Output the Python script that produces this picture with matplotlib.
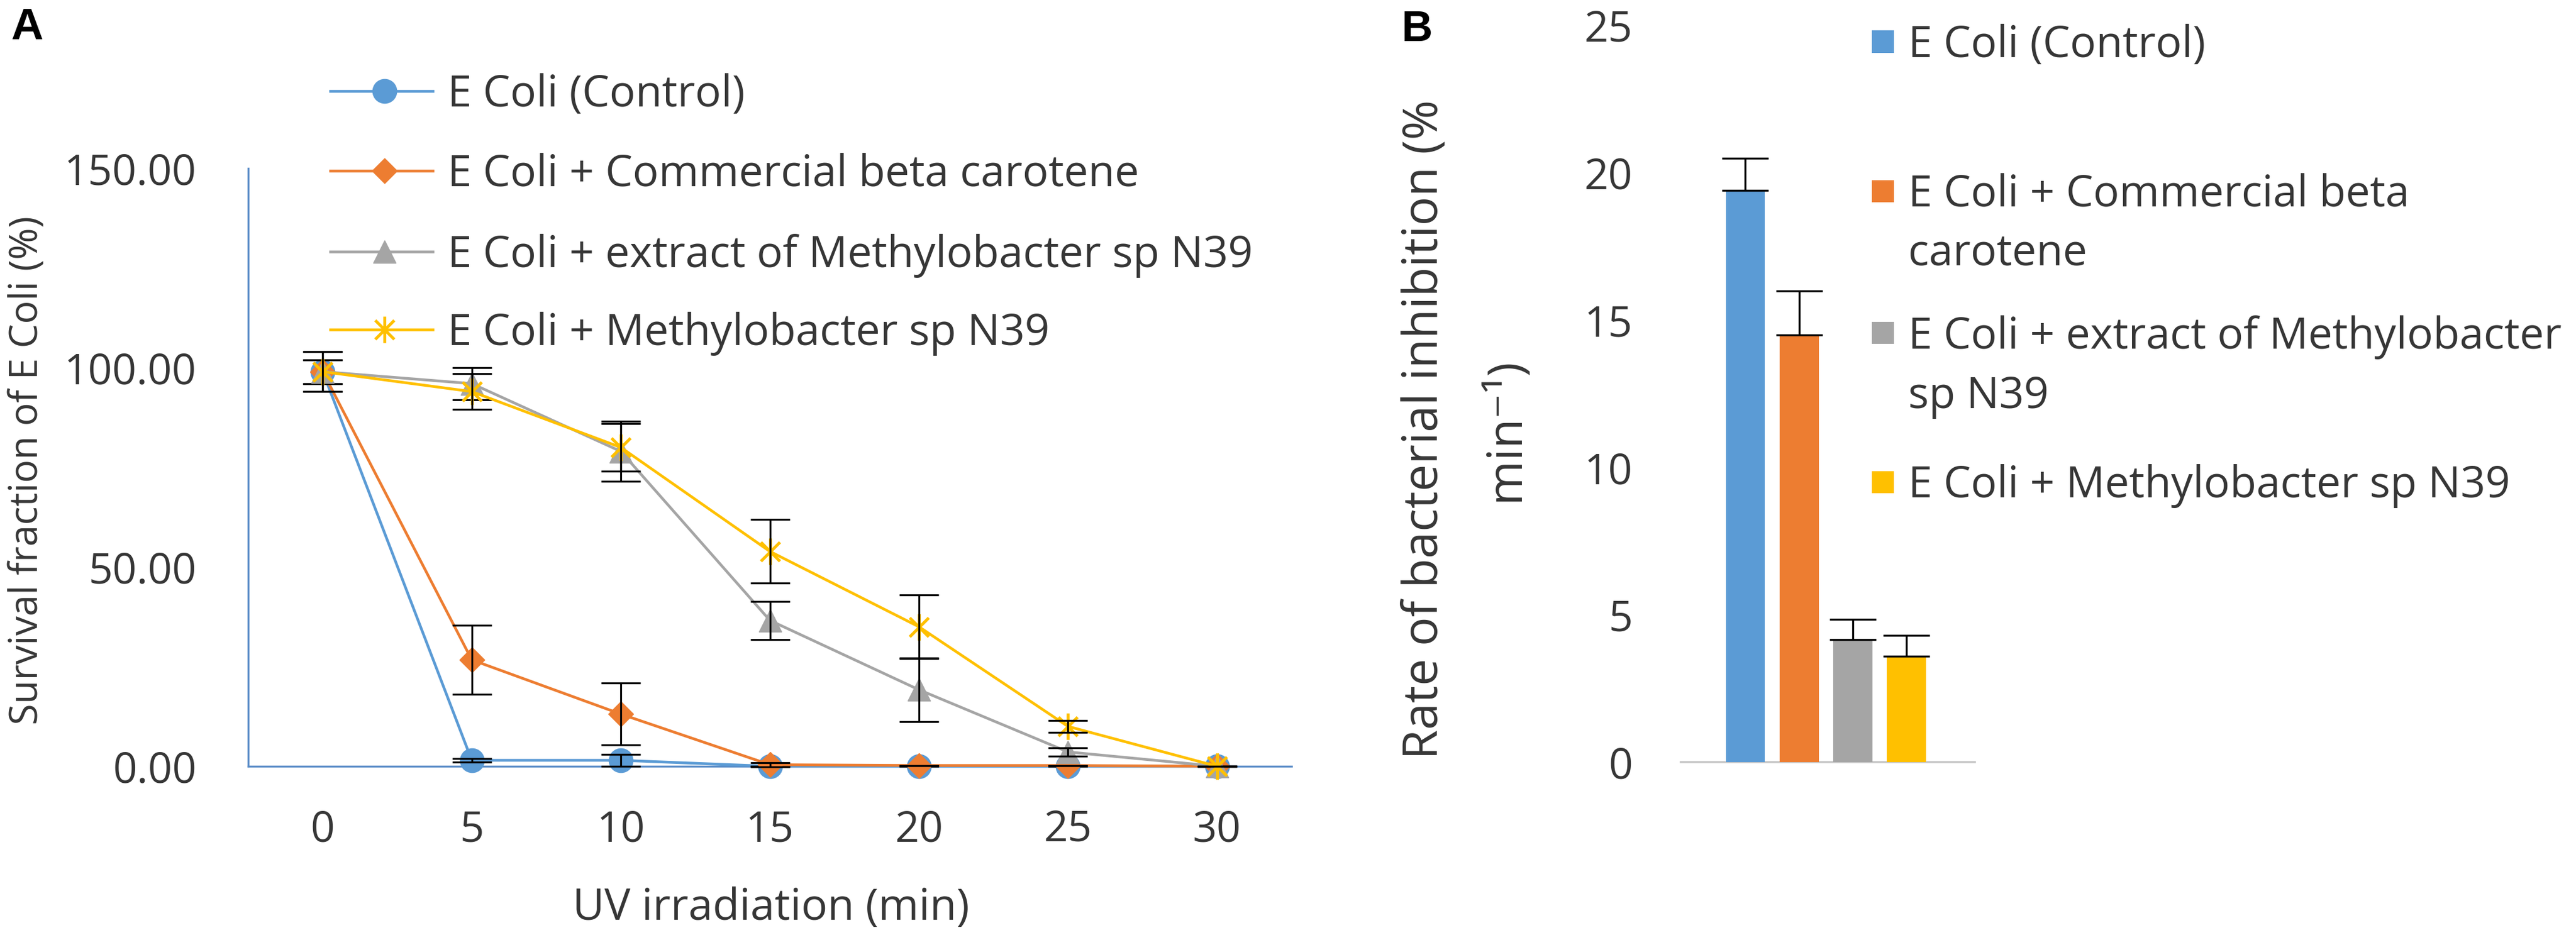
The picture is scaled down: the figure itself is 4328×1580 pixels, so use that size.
import matplotlib
matplotlib.use('Agg')
import matplotlib.pyplot as plt
from matplotlib.patches import Rectangle
from matplotlib.lines import Line2D
from matplotlib.path import Path
from matplotlib.font_manager import FontProperties

# ---------------- data ----------------
time_min = [0, 5, 10, 15, 20, 25, 30]
series_names = ["E Coli (Control)",
                "E Coli + Commercial beta carotene",
                "E Coli + extract of Methylobacter sp N39",
                "E Coli + Methylobacter sp N39"]
control_vals = [99.0, 1.5, 1.5, 0.0, 0.0, 0.0, 0.0]
control_err = [3.0, 0.5, 1.5, 0.0, 0.0, 0.0, 0.0]
beta_vals = [99.0, 26.7, 13.1, 0.4, 0.2, 0.2, 0.0]
beta_err = [3.0, 8.6, 7.8, 0.5, 0.0, 0.0, 0.0]
extract_vals = [99.0, 96.0, 79.0, 36.6, 19.2, 3.6, 0.0]
extract_err = [5.0, 4.0, 7.5, 4.8, 8.0, 1.0, 0.0]
methylo_vals = [99.0, 94.0, 80.0, 53.9, 35.0, 10.0, 0.0]
methylo_err = [5.0, 4.5, 6.0, 8.0, 8.0, 1.5, 0.0]
y_ticks_a = [0, 50, 100, 150]
y_tick_labels_a = ["0.00", "50.00", "100.00", "150.00"]

bar_labels = ["E Coli (Control)",
              "E Coli + Commercial beta\ncarotene",
              "E Coli + extract of Methylobacter\nsp N39",
              "E Coli + Methylobacter sp N39"]
rates = [19.4, 14.5, 4.15, 3.6]
rate_err = [1.1, 1.5, 0.7, 0.7]
y_ticks_b = [0, 5, 10, 15, 20, 25]

# ---------------- style ----------------
colors = ['#5B9BD5', '#ED7D31', '#A5A5A5', '#FFC000']
txt = '#363636'
W, H = 4328, 1580
FONT = ['Open Sans', 'DejaVu Sans']
BOLD = ['Liberation Sans', 'DejaVu Sans']

fig = plt.figure(figsize=(W / 100, H / 100), dpi=100)
fig.patch.set_facecolor('white')
renderer = fig.canvas.get_renderer()


def fx(px):
    return px / W


def fy(py):
    return 1 - py / H


def fit_size(text, target_px, family=FONT, weight='normal'):
    t = fig.text(0, 0, text, fontsize=100, family=family, fontweight=weight)
    w = t.get_window_extent(renderer).width
    t.remove()
    return 100.0 * target_px / w


def text_height(fs, family=FONT):
    t = fig.text(0, 0, "0", fontsize=fs, family=family)
    h = t.get_window_extent(renderer).height
    t.remove()
    return h


legend_fs = fit_size("E Coli + Methylobacter sp N39", 1013)
tick_fs = fit_size("150.00", 222)
xlab_fs = fit_size("UV irradiation (min)", 667)
ylabA_fs = fit_size("Survival fraction of E Coli (%)", 856)
ylabB_fs = fit_size("Rate of bacterial inhibition (%", 1109)
cap_ratio = 0.714


def cap_px(fs):
    return cap_ratio * fs * 100 / 72


# Excel-style star marker: vertical bar plus an X
d = 0.72
star = Path([(0, -1), (0, 1), (-d, -d), (d, d), (-d, d), (d, -d)],
            [Path.MOVETO, Path.LINETO, Path.MOVETO, Path.LINETO,
             Path.MOVETO, Path.LINETO])

# ---------------- panel A ----------------
A_L, A_R, A_B, A_T = 417, 2170, 1288, 283
axA = fig.add_axes([fx(A_L), fy(A_B), fx(A_R - A_L), (A_B - A_T) / H])
axA.set_xlim(-2.5, 32.5)
axA.set_ylim(0, 150)

vals_all = [control_vals, beta_vals, extract_vals, methylo_vals]
errs_all = [control_err, beta_err, extract_err, methylo_err]
markers = ['o', 'D', '^', star]
msizes = [29, 21, 27, 32]
mews = [1.0, 1.0, 1.0, 3.6]
for i in range(4):
    axA.plot(time_min, vals_all[i], color=colors[i], lw=3.3,
             marker=markers[i], ms=msizes[i],
             mfc=colors[i], mec=colors[i], mew=mews[i],
             zorder=3 + i, clip_on=False)
    eb = axA.errorbar(time_min, vals_all[i], yerr=errs_all[i], fmt='none',
                      ecolor='black', elinewidth=2.3, capsize=24, capthick=2.3,
                      zorder=3 + i)
    for c in eb.get_children():
        c.set_clip_on(False)

for s in ['top', 'right']:
    axA.spines[s].set_visible(False)
for s in ['left', 'bottom']:
    axA.spines[s].set_color('#5B8DC8')
    axA.spines[s].set_linewidth(2.4)
axA.set_xticks(time_min)
axA.set_xticklabels([str(t) for t in time_min])
axA.set_yticks(y_ticks_a)
axA.set_yticklabels(y_tick_labels_a)
th = text_height(tick_fs)
axA.tick_params(axis='both', length=0, labelsize=tick_fs, labelcolor=txt)
axA.tick_params(axis='y', pad=(A_L - 330) * 0.72)
axA.tick_params(axis='x', pad=((1396 - th / 2) - A_B) * 0.72)
for lab in axA.get_xticklabels() + axA.get_yticklabels():
    lab.set_family(FONT)

axA.set_ylabel("Survival fraction of E Coli (%)", fontsize=ylabA_fs, color=txt,
               family=FONT, ha='center', va='center')
axA.yaxis.set_label_coords((46 - A_L) / (A_R - A_L), (A_B - 790) / (A_B - A_T))
axA.set_xlabel("UV irradiation (min)", fontsize=xlab_fs, color=txt,
               family=FONT, ha='center', va='center')
axA.xaxis.set_label_coords(((962 + 1629) / 2 - A_L) / (A_R - A_L),
                           (A_B - 1527) / (A_B - A_T))

# legend A (drawn in figure pixels)
legA_y = [153, 287, 423, 554]
cap_leg = cap_px(legend_fs)
for i in range(4):
    yc = legA_y[i]
    fig.add_artist(Line2D([fx(555), fx(646), fx(727)], [fy(yc)] * 3,
                          transform=fig.transFigure, color=colors[i], lw=3.3,
                          marker=markers[i], ms=msizes[i], mfc=colors[i],
                          mec=colors[i], mew=mews[i], markevery=[1]))
    fig.text(fx(752), fy(yc + cap_leg / 2), series_names[i], fontsize=legend_fs,
             color=txt, family=FONT, ha='left', va='baseline')

fig.text(fx(45), fy(47), "A", fontsize=54, fontweight='bold',
         family=BOLD, ha='center', va='center')

# ---------------- panel B ----------------
B_L, B_R, B_B, B_T = 2824, 3318, 1281, 43
axB = fig.add_axes([fx(B_L), fy(B_B), fx(B_R - B_L), (B_B - B_T) / H])
axB.set_ylim(0, 25)
axB.set_xlim(-1.203, 4.275)
xpos = list(range(len(rates)))
axB.bar(xpos, rates, width=0.73, color=colors,
        yerr=[[0] * len(rates), rate_err],
        error_kw=dict(ecolor='black', elinewidth=2.4, capsize=28, capthick=2.4),
        zorder=3)
for s in ['top', 'right', 'left']:
    axB.spines[s].set_visible(False)
axB.spines['bottom'].set_color('#C8C8C8')
axB.spines['bottom'].set_linewidth(2.6)
axB.set_xticks([])
axB.set_yticks(y_ticks_b)
axB.set_yticklabels([str(v) for v in y_ticks_b])
axB.tick_params(axis='y', length=0, labelsize=tick_fs, labelcolor=txt,
                pad=(B_L - 2743) * 0.72)
for lab in axB.get_yticklabels():
    lab.set_family(FONT)

fpB = FontProperties(family=FONT, size=ylabB_fs)
_, lp_h, lp_d = renderer.get_text_width_height_descent("lp", fpB, ismath=False)
lsB = 116.0 / (lp_h - lp_d)
axB.set_ylabel("Rate of bacterial inhibition (%\nmin\u207b\u00b9)", fontsize=ylabB_fs,
               color=txt, family=FONT, ha='center', va='center',
               multialignment='center', linespacing=lsB)
axB.yaxis.set_label_coords((2462 - B_L) / (B_R - B_L), (B_B - 722) / (B_B - B_T))

fig.text(fx(2380), fy(50), "B", fontsize=52, fontweight='bold',
         family=BOLD, ha='center', va='center')

# legend B (swatch aligned with the first line of each label)
legB_y = [70, 321, 560, 810]
line_pitch = 100
for i, lab in enumerate(bar_labels):
    yc = legB_y[i]
    fig.add_artist(Rectangle((fx(3145), fy(yc + 18.5)), fx(37), 37 / H,
                             transform=fig.transFigure, facecolor=colors[i],
                             edgecolor='none'))
    for j, line in enumerate(lab.split('\n')):
        fig.text(fx(3206), fy(yc + line_pitch * j + cap_leg / 2), line,
                 fontsize=legend_fs, color=txt, family=FONT,
                 ha='left', va='baseline')

fig.savefig('out.png', dpi=100, facecolor='white')
